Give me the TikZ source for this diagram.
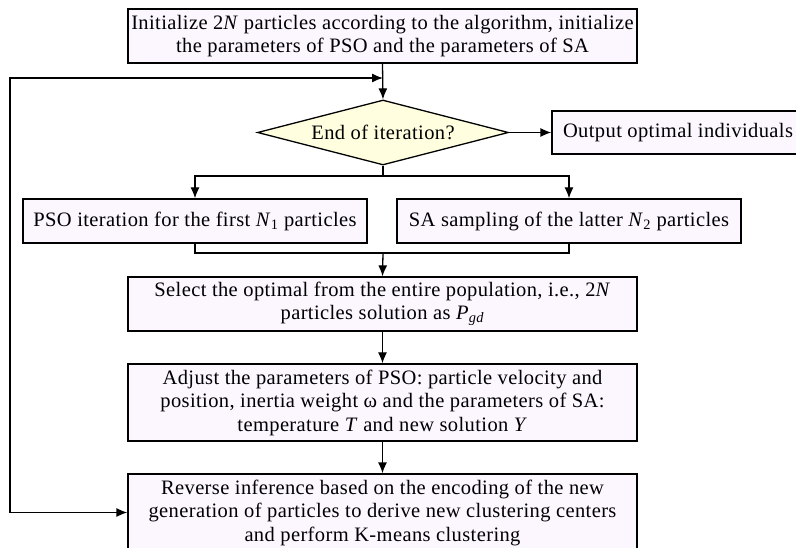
\documentclass[tikz,border=0pt]{standalone}
\usepackage{fontspec}
\setmainfont[LetterSpace=1.9]{Liberation Serif}
\usetikzlibrary{shapes.geometric,arrows.meta}
\newcommand{\nsub}[1]{\textit{N}\textsubscript{#1}}

\begin{document}
\begin{tikzpicture}[x=1pt,y=-1pt,
    every node/.style={font=\fontsize{20.5}{23.5}\selectfont},
    stepbox/.style={draw,line width=1.3pt,fill=boxfill,inner sep=0pt,align=center},
    testbox/.style={draw,diamond,line width=1.3pt,fill=testfill,inner sep=0pt,aspect=3.86},
    tip/.tip={Latex[length=11pt,width=9pt]},
    flow/.style={line width=1.3pt,-tip},
    backflow/.style={line width=1.3pt,tip-tip},
    link/.style={line width=1.3pt}]
            \definecolor{boxfill}{RGB}{252,246,255}
            \definecolor{testfill}{RGB}{255,255,224}
            \useasboundingbox (0,0) rectangle (796,548);
            \node[stepbox,minimum width=509pt,minimum height=54pt] (init) at (382.5,36) {Initialize 2\textit{N} particles according to the algorithm, initialize\\the parameters of PSO and the parameters of SA};
            \node[testbox,minimum width=251pt,minimum height=65pt] (test) at (383,132.5) {End of iteration?};
            \node[stepbox,minimum width=252pt,minimum height=43pt] (output) at (678,132.5) {Output optimal individuals};
            \node[stepbox,minimum width=344pt,minimum height=44pt] (pso) at (195,221) {PSO iteration for the first \nsub{1} particles};
            \node[stepbox,minimum width=344pt,minimum height=44pt] (sa) at (569,221) {SA sampling of the latter \nsub{2} particles};
            \node[stepbox,minimum width=509pt,minimum height=54pt] (select) at (382.5,304) {Select the optimal from the entire population, i.e., 2\textit{N}\\particles solution as \textit{P}\textsubscript{\textit{gd}}};
            \node[stepbox,minimum width=509pt,minimum height=77pt] (adjust) at (382.5,402.5) {Adjust the parameters of PSO: particle velocity and\\position, inertia weight ω and the parameters of SA:\\temperature \textit{T} and new solution \textit{Y}};
            \node[stepbox,minimum width=509pt,minimum height=77pt] (reverse) at (382.5,512.5) {Reverse inference based on the encoding of the new\\generation of particles to derive new clustering centers\\and perform K-means clustering};
            \coordinate (back) at (383,78);
            \coordinate (corner) at (10,78);
            \coordinate (split) at (383,176);
            \coordinate (merge) at (383,253);
            \draw[flow] (init.south) -- (test.north);
            \draw[flow] (test.east) -- (output.west);
            \draw[link] (test.south) -- (split);
            \draw[flow] (split) -| (pso.north);
            \draw[flow] (split) -| (sa.north);
            \draw[link] (pso.south) |- (merge) -| (sa.south);
            \draw[flow] (merge) -- (select.north);
            \draw[flow] (select.south) -- (adjust.north);
            \draw[flow] (adjust.south) -- (reverse.north);
            \draw[backflow] (reverse.west) -| (corner) -- (back);
        \end{tikzpicture}
\end{document}
